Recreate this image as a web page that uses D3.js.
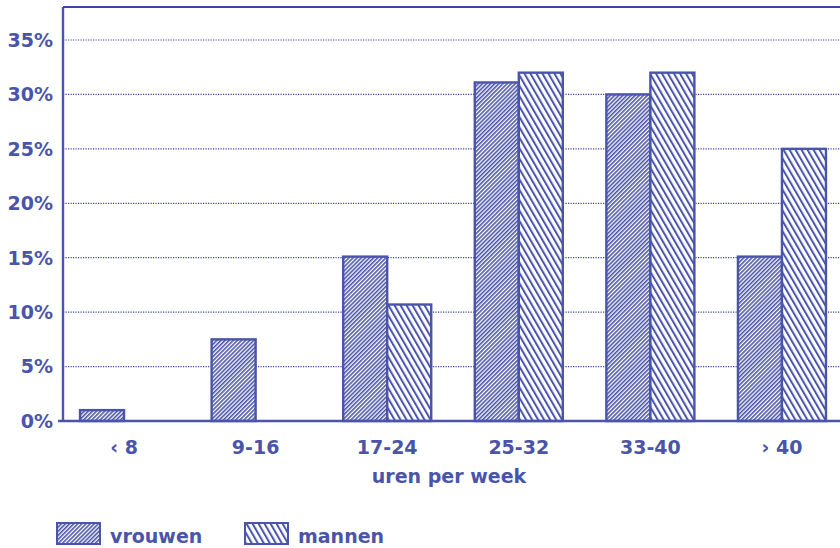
<!DOCTYPE html>
<html>
<head>
<meta charset="utf-8">
<script src="https://cdn.jsdelivr.net/npm/d3@7"></script>
<style>
  html, body { margin: 0; padding: 0; background: #fff; }
  svg { display: block; }
  text { font-family: "DejaVu Sans", sans-serif; font-weight: bold; fill: #4a54a8; }
</style>
</head>
<body>
<svg id="chart" width="840" height="548"></svg>
<script>
// Weekly working hours, share of women and men per class
const categories = ["\u2039 8", "9-16", "17-24", "25-32", "33-40", "\u203A 40"];
const vrouwen = [1.0, 7.5, 15.1, 31.1, 30.0, 15.1];
const mannen = [0, 0, 10.7, 32.0, 32.0, 25.0];
const seriesNames = ["vrouwen", "mannen"];
const yTicks = [0, 5, 10, 15, 20, 25, 30, 35];
const axisTitle = "uren per week";

const ink = "#4a54a8";
const gridInk = "#3d47a2";

const svg = d3.select("#chart");
const W = 840;
const plot = { left: 63, top: 7, bottom: 421, right: 840 };

// hatch fills
const defs = svg.append("defs");
function hatch(id, spacing, lineW, angle) {
  const p = defs.append("pattern")
    .attr("id", id)
    .attr("patternUnits", "userSpaceOnUse")
    .attr("width", spacing)
    .attr("height", 10)
    .attr("patternTransform", `rotate(${angle})`);
  p.append("rect").attr("width", spacing).attr("height", 10).attr("fill", "#fff");
  p.append("rect").attr("width", lineW).attr("height", 10).attr("fill", ink);
}
hatch("hatch-v", 2.9, 1.6, 45);
hatch("hatch-m", 5.2, 2.0, -30);
const fills = { vrouwen: "url(#hatch-v)", mannen: "url(#hatch-m)" };

const x = d3.scaleBand()
  .domain(categories)
  .range([58.25, 847.75])
  .paddingInner(0.331)
  .paddingOuter(0.1655);

const xs = d3.scaleBand()
  .domain(seriesNames)
  .range([0, x.bandwidth()]);

const y = d3.scaleLinear().domain([0, 35]).range([plot.bottom, 40]);

// dotted grid lines
svg.append("g")
  .selectAll("line")
  .data(yTicks.filter(d => d > 0))
  .join("line")
  .attr("x1", plot.left)
  .attr("x2", plot.right)
  .attr("y1", d => y(d))
  .attr("y2", d => y(d))
  .attr("stroke", gridInk)
  .attr("stroke-width", 1.2)
  .attr("stroke-dasharray", "1.2,1.3");

// y tick labels
svg.append("g")
  .selectAll("text")
  .data(yTicks)
  .join("text")
  .attr("x", 53)
  .attr("y", d => y(d))
  .attr("dy", "0.36em")
  .attr("text-anchor", "end")
  .attr("font-size", 19)
  .text(d => d + "%");

// bars
const rows = categories.map((c, i) => ({ cat: c, vrouwen: vrouwen[i], mannen: mannen[i] }));
const groups = svg.append("g")
  .selectAll("g")
  .data(rows)
  .join("g")
  .attr("transform", d => `translate(${x(d.cat)},0)`);

groups.selectAll("rect")
  .data(d => seriesNames.map(k => ({ key: k, value: d[k] })).filter(d => d.value > 0))
  .join("rect")
  .attr("x", d => xs(d.key))
  .attr("y", d => y(d.value))
  .attr("width", xs.bandwidth())
  .attr("height", d => y(0) - y(d.value))
  .attr("fill", d => fills[d.key])
  .attr("stroke", ink)
  .attr("stroke-width", 2.4);

// frame: left axis, top line, base line
svg.append("line")
  .attr("x1", plot.left).attr("x2", plot.left)
  .attr("y1", plot.top).attr("y2", plot.bottom)
  .attr("stroke", ink).attr("stroke-width", 2.4);
svg.append("line")
  .attr("x1", plot.left).attr("x2", plot.right)
  .attr("y1", plot.top).attr("y2", plot.top)
  .attr("stroke", "#3c46a2").attr("stroke-width", 2.2);
svg.append("line")
  .attr("x1", 58).attr("x2", plot.right)
  .attr("y1", plot.bottom).attr("y2", plot.bottom)
  .attr("stroke", ink).attr("stroke-width", 2.4);

// category labels
svg.append("g")
  .selectAll("text")
  .data(categories)
  .join("text")
  .attr("x", d => x(d) + x.bandwidth() / 2)
  .attr("y", 454)
  .attr("text-anchor", "middle")
  .attr("font-size", 19)
  .text(d => d);

// axis title
svg.append("text")
  .attr("x", 449)
  .attr("y", 483)
  .attr("text-anchor", "middle")
  .attr("font-size", 19)
  .text(axisTitle);

// legend
const legendX = [57, 245];
const legend = svg.append("g")
  .selectAll("g")
  .data(seriesNames)
  .join("g")
  .attr("transform", (d, i) => `translate(${legendX[i]},523)`);
legend.append("rect")
  .attr("width", 43)
  .attr("height", 21)
  .attr("fill", d => fills[d])
  .attr("stroke", ink)
  .attr("stroke-width", 2);
legend.append("text")
  .attr("x", 53)
  .attr("y", 20)
  .attr("font-size", 19)
  .text(d => d);
</script>
</body>
</html>
